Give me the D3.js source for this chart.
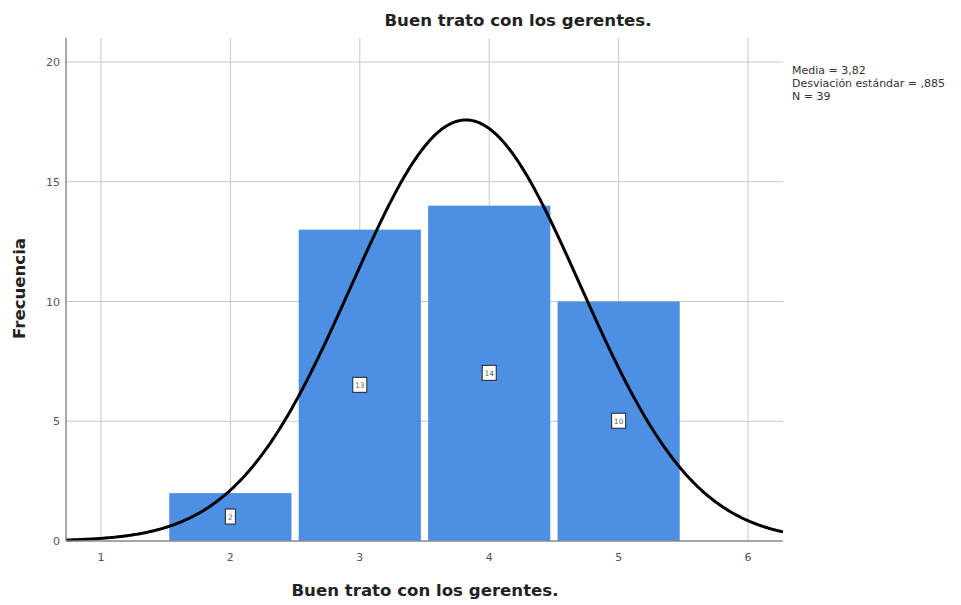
<!DOCTYPE html>
<html>
<head>
<meta charset="utf-8">
<script src="https://cdn.jsdelivr.net/npm/d3@7"></script>
<style>
  html, body { margin: 0; padding: 0; background: #fff; }
  svg { display: block; font-family: "DejaVu Sans", Verdana, sans-serif; }
</style>
</head>
<body>
<svg id="chart" width="961" height="605"></svg>
<script>
// Response categories and their counts
const categories = [2, 3, 4, 5];
const counts = [2, 13, 14, 10];
const xTicks = [1, 2, 3, 4, 5, 6];
const yTicks = [0, 5, 10, 15, 20];
const stats = { mean: 3.82, sd: 0.885, n: 39 };
const statLines = ["Media = 3,82", "Desviación estándar = ,885", "N = 39"];

const svg = d3.select("#chart");
const plotLeft = 66, plotRight = 783, plotTop = 38, plotBottom = 541;

const x = d3.scaleLinear().domain([0.73, 6.27]).range([plotLeft, plotRight]);
const y = d3.scaleLinear().domain([0, 20]).range([plotBottom, 62]);

// Grid lines
svg.append("g").selectAll("line").data(yTicks.filter(d => d > 0)).join("line")
  .attr("x1", plotLeft).attr("x2", plotRight)
  .attr("y1", d => y(d)).attr("y2", d => y(d))
  .attr("stroke", "#c8c8c8").attr("stroke-width", 1);
svg.append("g").selectAll("line").data(xTicks).join("line")
  .attr("x1", d => x(d)).attr("x2", d => x(d))
  .attr("y1", plotTop).attr("y2", plotBottom)
  .attr("stroke", "#c8c8c8").attr("stroke-width", 1);

// Bars
const half = 0.472;
svg.append("g").selectAll("rect").data(categories).join("rect")
  .attr("x", (d) => x(d - half))
  .attr("width", (d) => x(d + half) - x(d - half))
  .attr("y", (d, i) => y(counts[i]))
  .attr("height", (d, i) => plotBottom - y(counts[i]))
  .attr("fill", "#4d8fe2");

// Normal curve scaled to counts (bin width 1)
const pdf = v => stats.n / (stats.sd * Math.sqrt(2 * Math.PI)) *
  Math.exp(-0.5 * Math.pow((v - stats.mean) / stats.sd, 2));
const curvePts = d3.range(0.73, 6.2701, 0.01).map(v => [v, pdf(v)]);
svg.append("path")
  .datum(curvePts)
  .attr("d", d3.line().x(d => x(d[0])).y(d => y(d[1])))
  .attr("fill", "none").attr("stroke", "#000").attr("stroke-width", 3);

// Value labels
const lab = svg.append("g").selectAll("g").data(categories).join("g")
  .attr("transform", (d, i) => `translate(${x(d)},${y(counts[i] / 2)})`);
lab.append("rect")
  .attr("x", (d, i) => counts[i] >= 10 ? -7 : -5).attr("y", -8)
  .attr("width", (d, i) => counts[i] >= 10 ? 14 : 10).attr("height", 15)
  .attr("fill", "#fff").attr("stroke", "#222").attr("stroke-width", 1);
lab.append("text")
  .attr("text-anchor", "middle").attr("y", 3)
  .attr("font-size", 7.5).attr("fill", "#666")
  .text((d, i) => counts[i]);

// Axis lines
svg.append("line").attr("x1", plotLeft).attr("x2", plotLeft).attr("y1", plotTop).attr("y2", plotBottom)
  .attr("stroke", "#888").attr("stroke-width", 1.5);
svg.append("line").attr("x1", plotLeft).attr("x2", plotRight).attr("y1", plotBottom).attr("y2", plotBottom)
  .attr("stroke", "#888").attr("stroke-width", 1.5);

// Tick labels
svg.append("g").selectAll("text").data(yTicks).join("text")
  .attr("x", 60).attr("y", d => y(d) + 4)
  .attr("text-anchor", "end").attr("font-size", 11).attr("fill", "#555")
  .text(d => d);
svg.append("g").selectAll("text").data(xTicks).join("text")
  .attr("x", d => x(d)).attr("y", 561)
  .attr("text-anchor", "middle").attr("font-size", 11).attr("fill", "#555")
  .text(d => d);

// Titles
svg.append("text").attr("x", 518).attr("y", 26).attr("text-anchor", "middle")
  .attr("font-size", 16.6).attr("font-weight", "bold").attr("fill", "#222")
  .text("Buen trato con los gerentes.");
svg.append("text").attr("x", 425).attr("y", 596).attr("text-anchor", "middle")
  .attr("font-size", 16.6).attr("font-weight", "bold").attr("fill", "#222")
  .text("Buen trato con los gerentes.");
svg.append("text").attr("transform", "translate(25,288.5) rotate(-90)")
  .attr("text-anchor", "middle")
  .attr("font-size", 16.6).attr("font-weight", "bold").attr("fill", "#222")
  .text("Frecuencia");

// Summary statistics
svg.append("g").selectAll("text").data(statLines).join("text")
  .attr("x", 792).attr("y", (d, i) => 74 + i * 13)
  .attr("font-size", 11).attr("fill", "#333")
  .text(d => d);
</script>
</body>
</html>
